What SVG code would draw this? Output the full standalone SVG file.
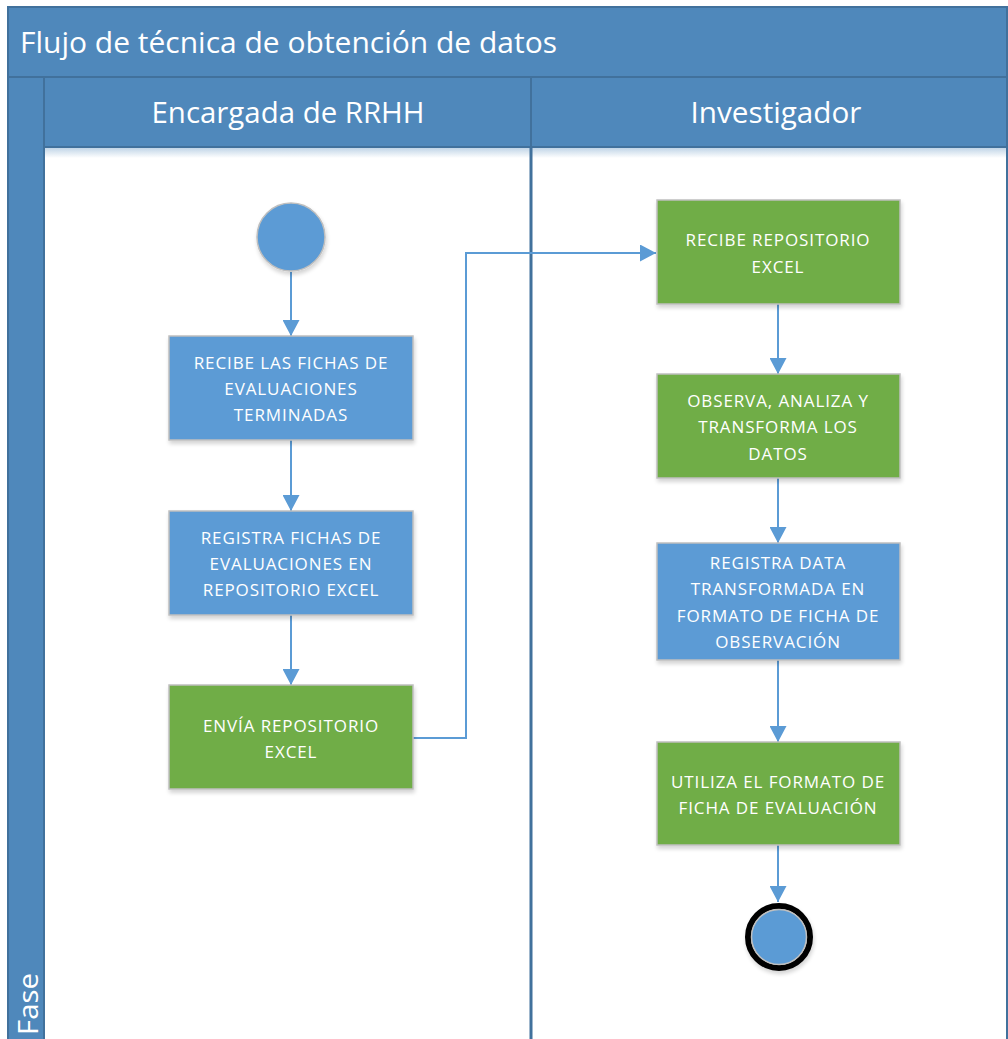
<svg xmlns="http://www.w3.org/2000/svg" width="1008" height="1039" viewBox="0 0 1008 1039">
  <defs>
    <style>
      .band { fill: #4F88BB; stroke: #41719C; stroke-width: 2; }
      .hdr { font-family: "Open Sans", "Liberation Sans", sans-serif; fill: #FFFFFF; }
      .act { stroke: #BFBFBF; stroke-width: 1.5; filter: url(#shadow); }
      .blue { fill: #5B9BD5; }
      .green { fill: #70AD47; }
      .lbl { font-family: "Open Sans", "Liberation Sans", sans-serif; font-size: 17px; letter-spacing: 0.9px; fill: #FFFFFF; text-anchor: middle; }
      .flow { fill: none; stroke: #5B9BD5; stroke-width: 2; }
    </style>
    <filter id="shadow" x="-10%" y="-10%" width="125%" height="130%">
      <feGaussianBlur in="SourceAlpha" stdDeviation="2"/>
      <feOffset dx="1" dy="3" result="b"/>
      <feComponentTransfer><feFuncA type="linear" slope="0.18"/></feComponentTransfer>
      <feMerge><feMergeNode/><feMergeNode in="SourceGraphic"/></feMerge>
    </filter>
    <linearGradient id="hdrShade" x1="0" y1="0" x2="0" y2="1">
      <stop offset="0" stop-color="#4F88BB" stop-opacity="0.35"/>
      <stop offset="1" stop-color="#4F88BB" stop-opacity="0"/>
    </linearGradient>
    <marker id="arrow" viewBox="0 0 16 17" refX="16" refY="8.5" markerWidth="16" markerHeight="17" markerUnits="userSpaceOnUse" orient="auto">
      <path d="M0,0 L16,8.5 L0,17 Z" fill="#5B9BD5"/>
    </marker>
  </defs>

  <rect width="1008" height="1039" fill="#FFFFFF"/>

  <!-- pool and lanes -->
  <g id="pool">
    <rect x="8" y="7" width="999" height="1040" fill="#FFFFFF" stroke="#41719C" stroke-width="2"/>
    <rect class="band" x="8" y="7" width="999" height="70"/>
    <text class="hdr" x="20" y="53" font-size="29" textLength="537" lengthAdjust="spacingAndGlyphs">Flujo de técnica de obtención de datos</text>
    <rect class="band" x="8" y="77" width="36" height="970"/>
    <text class="hdr" font-size="27" transform="translate(38,1035) rotate(-90)" textLength="62" lengthAdjust="spacingAndGlyphs">Fase</text>
  </g>

  <g id="lane-rrhh">
    <rect class="band" x="44" y="77" width="487" height="70"/>
    <rect x="45" y="148" width="485" height="10" fill="url(#hdrShade)"/>
    <text class="hdr" x="288" y="123" font-size="29" text-anchor="middle" textLength="273" lengthAdjust="spacingAndGlyphs">Encargada de RRHH</text>
  </g>

  <g id="lane-investigador">
    <rect class="band" x="531" y="77" width="476" height="70"/>
    <rect x="532" y="148" width="474" height="10" fill="url(#hdrShade)"/>
    <text class="hdr" x="776" y="123" font-size="29" text-anchor="middle" textLength="171" lengthAdjust="spacingAndGlyphs">Investigador</text>
    <line x1="531" y1="147" x2="531" y2="1039" stroke="#41719C" stroke-width="3"/>
  </g>

  <!-- connectors -->
  <g id="connectors">
    <line class="flow" x1="291" y1="272" x2="291" y2="336" marker-end="url(#arrow)"/>
    <line class="flow" x1="291" y1="440" x2="291" y2="511" marker-end="url(#arrow)"/>
    <line class="flow" x1="291" y1="615" x2="291" y2="685" marker-end="url(#arrow)"/>
    <polyline class="flow" points="413,738 466,738 466,253 656,253" marker-end="url(#arrow)"/>
    <line class="flow" x1="778" y1="304" x2="778" y2="374" marker-end="url(#arrow)"/>
    <line class="flow" x1="778" y1="478" x2="778" y2="543" marker-end="url(#arrow)"/>
    <line class="flow" x1="778" y1="660" x2="778" y2="742" marker-end="url(#arrow)"/>
    <line class="flow" x1="778" y1="845" x2="778" y2="902" marker-end="url(#arrow)"/>
  </g>

  <!-- nodes -->
  <g id="start">
    <circle cx="291" cy="237" r="34" fill="#5B9BD5" stroke="#BFBFBF" stroke-width="1.5" filter="url(#shadow)"/>
  </g>

  <g id="recibe-fichas">
    <rect class="act blue" x="169" y="336" width="244" height="104"/>
    <text class="lbl" x="291" y="369">RECIBE LAS FICHAS DE</text>
    <text class="lbl" x="291" y="395">EVALUACIONES</text>
    <text class="lbl" x="291" y="421">TERMINADAS</text>
  </g>

  <g id="registra-fichas">
    <rect class="act blue" x="169" y="511" width="244" height="104"/>
    <text class="lbl" x="291" y="544">REGISTRA FICHAS DE</text>
    <text class="lbl" x="291" y="570">EVALUACIONES EN</text>
    <text class="lbl" x="291" y="596">REPOSITORIO EXCEL</text>
  </g>

  <g id="envia-repositorio">
    <rect class="act green" x="169" y="685" width="244" height="104"/>
    <text class="lbl" x="291" y="732">ENVÍA REPOSITORIO</text>
    <text class="lbl" x="291" y="758">EXCEL</text>
  </g>

  <g id="recibe-repositorio">
    <rect class="act green" x="657" y="200" width="243" height="104"/>
    <text class="lbl" x="778" y="246">RECIBE REPOSITORIO</text>
    <text class="lbl" x="778" y="273">EXCEL</text>
  </g>

  <g id="observa-analiza">
    <rect class="act green" x="657" y="374" width="243" height="104"/>
    <text class="lbl" x="778" y="407">OBSERVA, ANALIZA Y</text>
    <text class="lbl" x="778" y="433">TRANSFORMA LOS</text>
    <text class="lbl" x="778" y="460">DATOS</text>
  </g>

  <g id="registra-data">
    <rect class="act blue" x="657" y="543" width="243" height="117"/>
    <text class="lbl" x="778" y="569">REGISTRA DATA</text>
    <text class="lbl" x="778" y="595">TRANSFORMADA EN</text>
    <text class="lbl" x="778" y="622">FORMATO DE FICHA DE</text>
    <text class="lbl" x="778" y="648">OBSERVACIÓN</text>
  </g>

  <g id="utiliza-formato">
    <rect class="act green" x="657" y="742" width="243" height="103"/>
    <text class="lbl" x="778" y="788">UTILIZA EL FORMATO DE</text>
    <text class="lbl" x="778" y="814">FICHA DE EVALUACIÓN</text>
  </g>

  <g id="end">
    <circle cx="779" cy="937" r="31" fill="none" stroke="#000000" stroke-width="6" filter="url(#shadow)"/>
    <circle cx="779" cy="937" r="27.5" fill="#5B9BD5" stroke="#BFBFBF" stroke-width="1.5"/>
  </g>
</svg>
